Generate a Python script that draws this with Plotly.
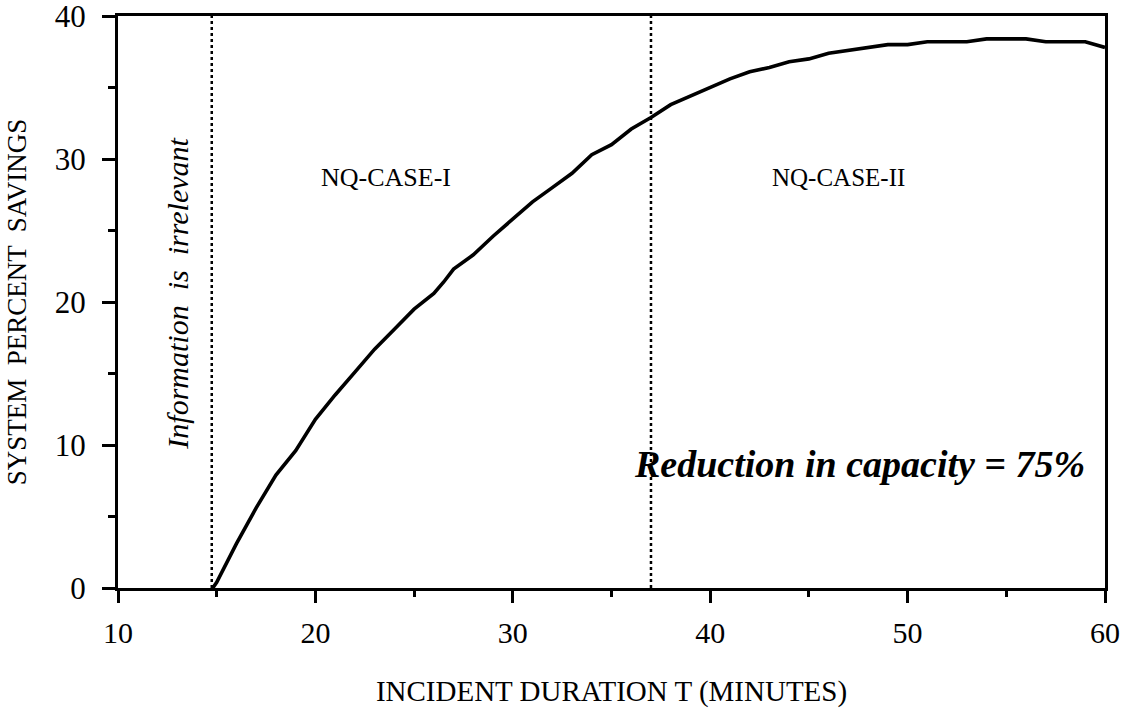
import plotly.graph_objects as go

# Data
duration = [14.8, 15, 16, 17, 18, 19, 20, 21, 22, 23, 24, 25, 26, 26.5, 27, 28, 29, 30,
             31, 32, 33, 34, 35, 36, 37, 38, 39, 40, 41, 42, 43, 44, 45, 46, 47, 48,
             49, 50, 51, 52, 53, 54, 55, 56, 57, 58, 59, 60]
savings = [0.0, 0.4, 3.1, 5.6, 7.9, 9.6, 11.8, 13.5, 15.1, 16.7, 18.1, 19.5, 20.6, 21.4, 22.3, 23.3, 24.6, 25.8,
           27.0, 28.0, 29.0, 30.3, 31.0, 32.1, 32.9, 33.8, 34.4, 35.0, 35.6, 36.1, 36.4, 36.8, 37.0, 37.4, 37.6, 37.8,
           38.0, 38.0, 38.2, 38.2, 38.2, 38.4, 38.4, 38.4, 38.2, 38.2, 38.2, 37.8]

region_bounds = [14.75, 37.0]
x_ticks = [10, 20, 30, 40, 50, 60]
y_ticks = [0, 10, 20, 30, 40]

SERIF = "Liberation Serif, Times New Roman, serif"

fig = go.Figure()

for b in region_bounds:
    fig.add_trace(go.Scatter(x=[b, b], y=[0, 40], mode="lines",
                             line=dict(color="black", width=2.5, dash="dot"),
                             showlegend=False, hoverinfo="skip"))

fig.add_trace(go.Scatter(x=duration, y=savings, mode="lines",
                         line=dict(color="black", width=3.6),
                         showlegend=False))

fig.add_annotation(x=13.0, y=20.6, text="<i>Information  is  irrelevant</i>", textangle=-90,
                   showarrow=False, font=dict(family=SERIF, size=30, color="black"))
fig.add_annotation(x=23.6, y=28.7, text="NQ-CASE-I", showarrow=False,
                   font=dict(family=SERIF, size=26, color="black"))
fig.add_annotation(x=46.5, y=28.7, text="NQ-CASE-II", showarrow=False,
                   font=dict(family=SERIF, size=25, color="black"))
fig.add_annotation(x=59.1, y=8.7, text="<b><i>Reduction in capacity = 75%</i></b>", showarrow=False,
                   xanchor="right", font=dict(family=SERIF, size=38, color="black"))

fig.update_layout(
    width=1131, height=708,
    margin=dict(l=118, r=26, t=16, b=120, autoexpand=False),
    paper_bgcolor="white", plot_bgcolor="white",
    font=dict(family=SERIF, color="black"),
    xaxis=dict(range=[10, 60], tickvals=x_ticks, ticks="outside", ticklen=12, tickwidth=3,
               tickcolor="black", showgrid=False, zeroline=False, showline=True, automargin=False,
               linecolor="black", linewidth=3, mirror=True, ticklabeloverflow="allow",
               tickfont=dict(family=SERIF, size=30), ticklabelstandoff=4,
               minor=dict(dtick=5, tick0=10, ticks="outside", ticklen=6, tickwidth=3, tickcolor="black"),
               title=dict(text="INCIDENT DURATION T (MINUTES)", font=dict(family=SERIF, size=29), standoff=38)),
    yaxis=dict(range=[0, 40], tickvals=y_ticks, ticks="outside", ticklen=13, tickwidth=3,
               tickcolor="black", showgrid=False, zeroline=False, showline=True, automargin=False,
               linecolor="black", linewidth=3, mirror=True, ticklabeloverflow="allow",
               tickfont=dict(family=SERIF, size=31), ticklabelstandoff=10,
               minor=dict(dtick=5, tick0=0, ticks="outside", ticklen=7, tickwidth=3, tickcolor="black"),
               title=dict(text="SYSTEM  PERCENT  SAVINGS", font=dict(family=SERIF, size=27), standoff=21)),
)

fig.write_html("out.html", config={"displayModeBar": False},
               post_script="document.body.style.margin='0';")
